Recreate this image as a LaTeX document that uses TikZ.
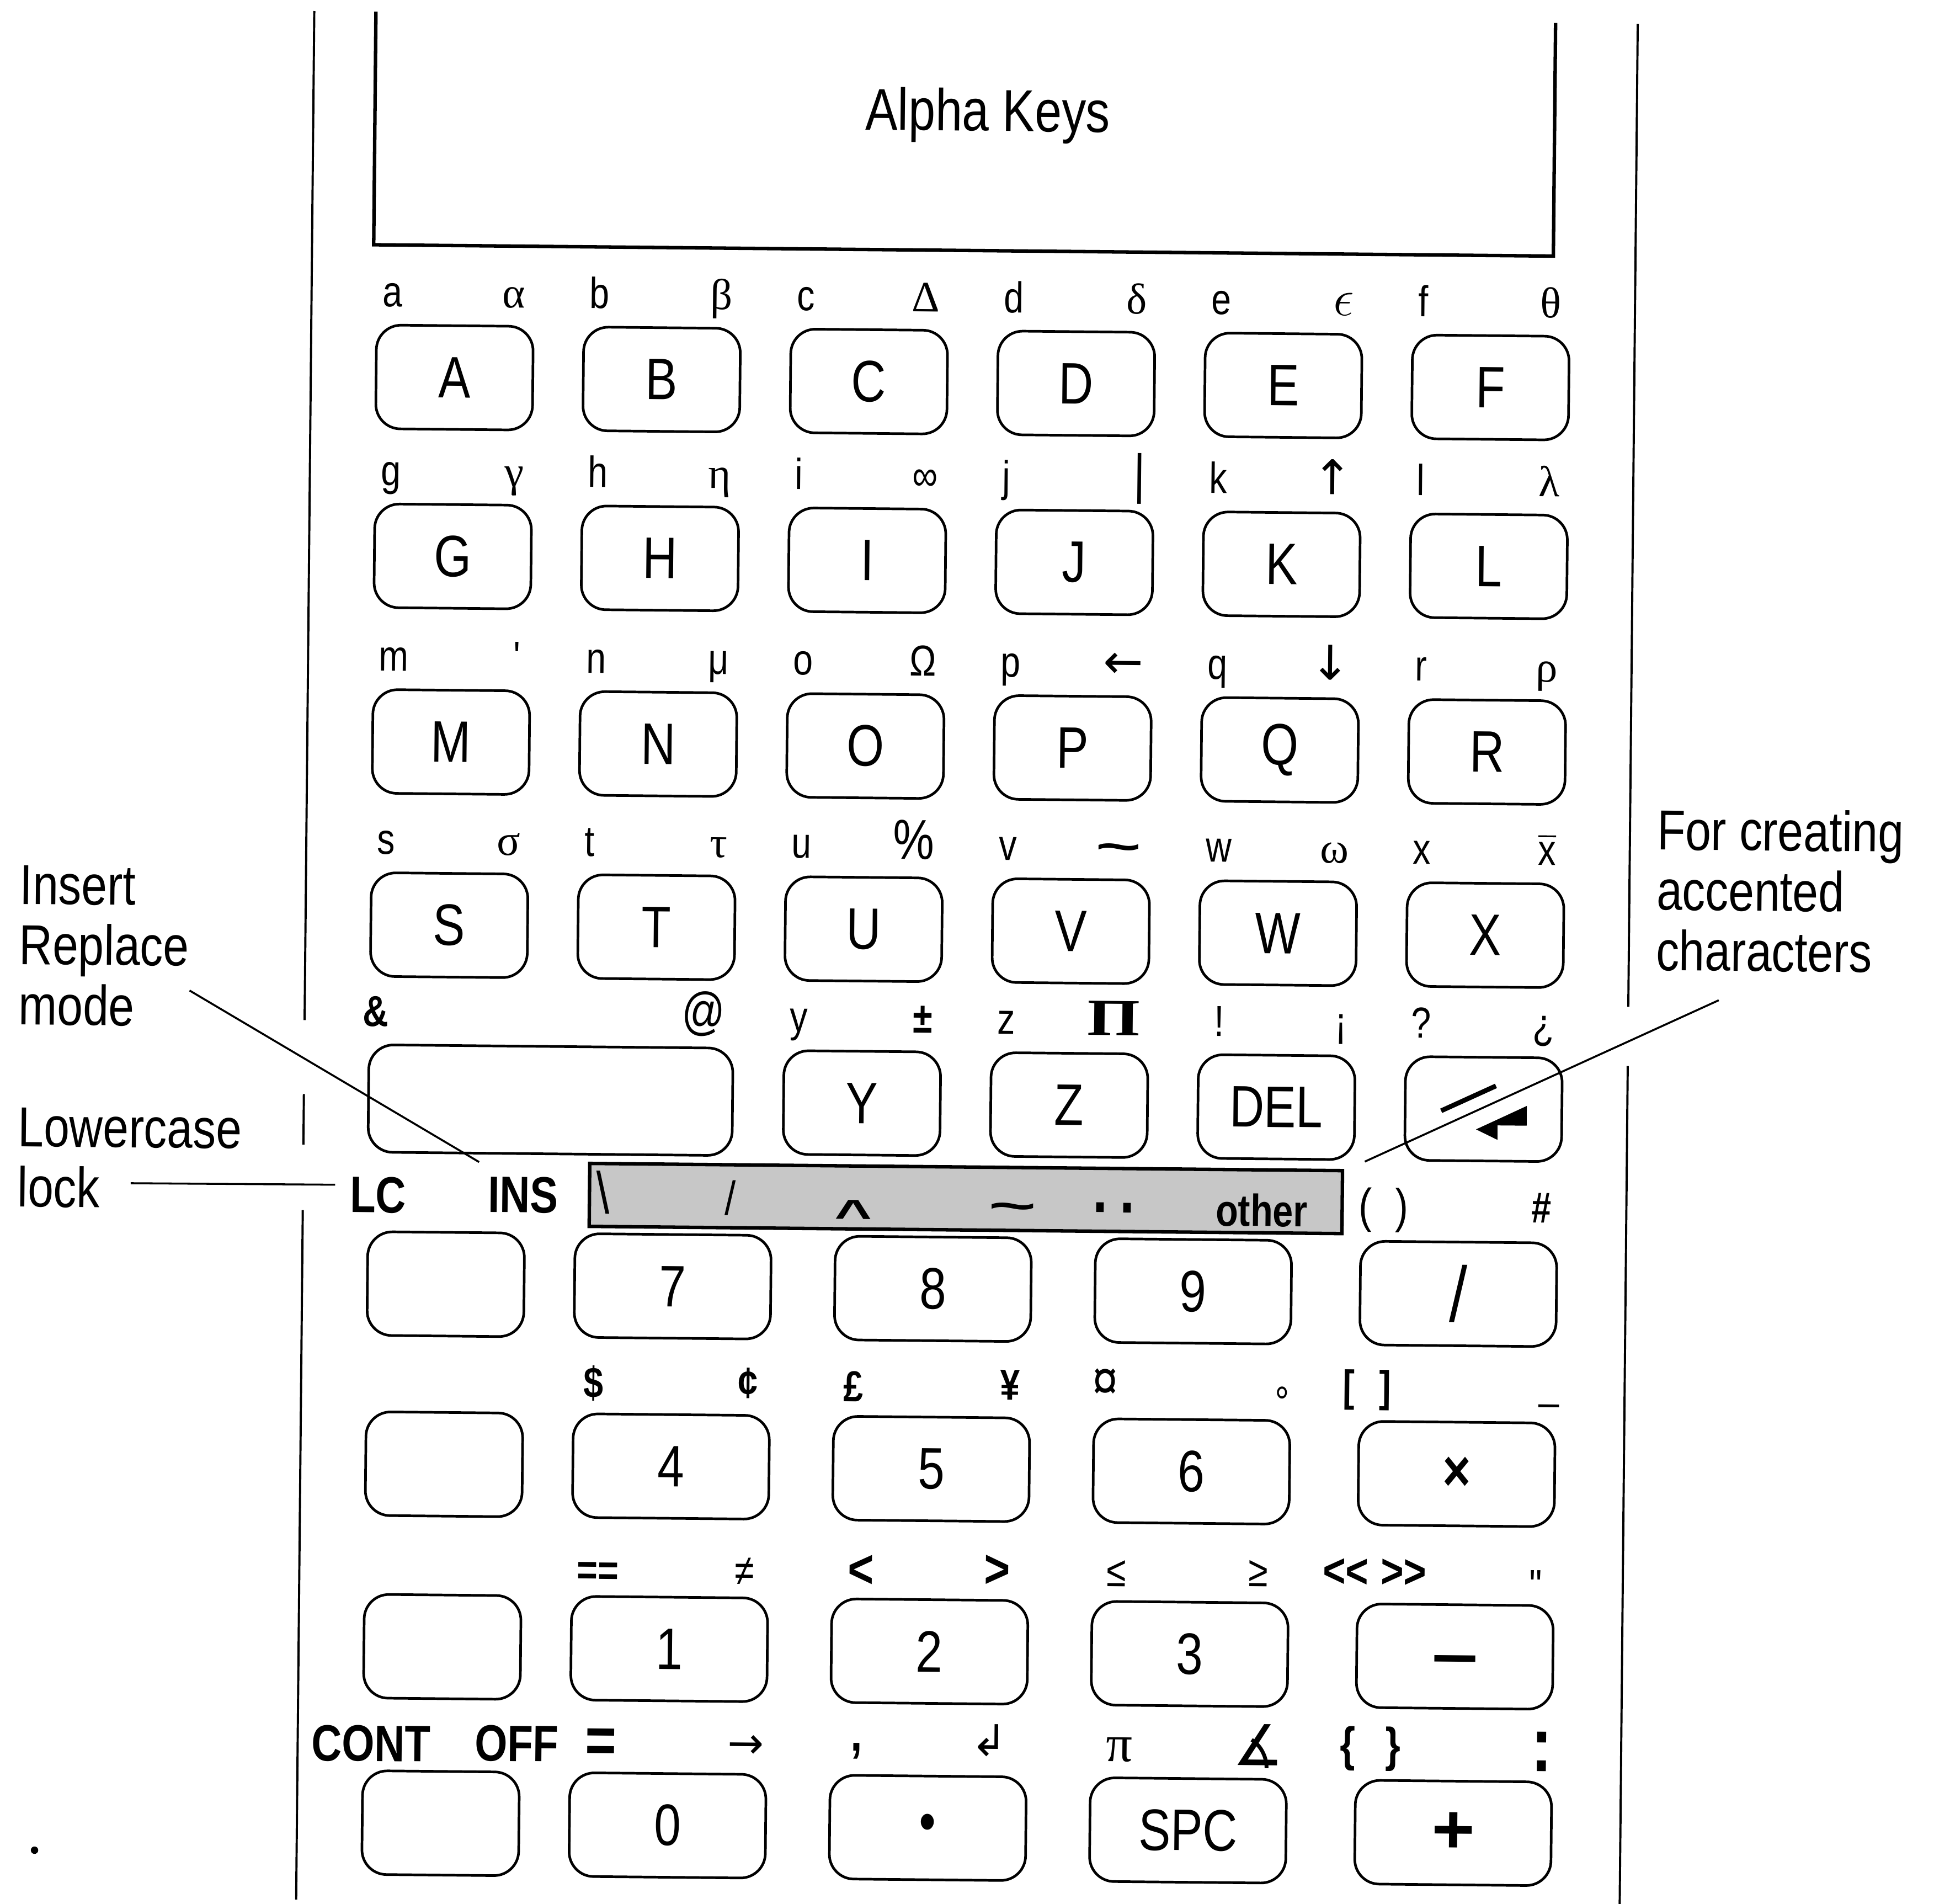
\documentclass[tikz,border=0pt]{standalone}
\usepackage{fontspec}
\usepackage{graphicx}
\setmainfont{Liberation Sans}[FakeStretch=0.82]
\newfontfamily\grk{Liberation Serif}
\newfontfamily\symf{DejaVu Sans}
\newcommand{\keyfont}{\fontsize{13.5}{14}\selectfont}
\newcommand{\lblfont}{\fontsize{10}{11}\selectfont}
\newcommand{\notefont}{\fontsize{13}{13.9}\selectfont}
\newcommand{\modefont}{\fontsize{11.8}{12}\selectfont\bfseries}
\newcommand{\gk}[1]{{\grk #1}}
\newcommand{\arw}[1]{{\fontsize{11}{11}\selectfont\symf #1}}
\tikzset{
  key/.style={draw, rounded corners=0.2cm, line width=0.6pt,
    minimum width=1.27cm, minimum height=0.84cm, inner sep=0pt,
    font=\keyfont},
  nkey/.style={key, minimum width=1.59cm},
  lbl/.style={inner sep=0pt, font=\lblfont},
  note/.style={align=left, inner sep=0pt, font=\notefont},
  shadebar/.style={draw, fill=black!22, line width=0.8pt, inner sep=0pt,
    minimum width=6.1cm, minimum height=0.51cm},
  leader/.style={line width=0.45pt},
  rim/.style={line width=0.5pt},
}
\newcommand{\akey}[7][]{%
  \node[key, #1] (#2) at (#3,#4) {#5};
  \node[lbl, anchor=base west] (#2l) at ([shift={(5,-14)}]#2.north west) {#6};
  \node[lbl, anchor=base east] (#2r) at ([shift={(-7,-14)}]#2.north east) {#7};
}

\begin{document}
\begin{tikzpicture}[x=0.01cm, y=-0.01cm]
\useasboundingbox (0,0) rectangle (1568,1543);
\begin{scope}[rotate around={-0.55:(780,770)}, transform shape]
  \draw[rim] (247.5,14) -- (247.5,832) (247.5,892) -- (247.5,933)
    (247.5,986) -- (247.5,1545);
  \draw[rim] (1320.6,14) -- (1320.6,811) (1320.6,859) -- (1320.6,1545);
  \draw[rim, line width=0.8pt] (297.5,14) -- (297.5,203) -- (1254,203) -- (1254,14);
  \node[inner sep=0pt, anchor=base, font=\fontsize{13.6}{14}\selectfont]
    (title) at (794.5,106) {Alpha Keys};

  \akey{kA}{364}{310}{A}{a}{\gk{α}}
  \akey{kB}{532}{310}{B}{b}{\gk{β}}
  \akey{kC}{700}{310}{C}{c}{\gk{Δ}}
  \akey{kD}{868}{310}{D}{d}{\gk{δ}}
  \akey{kE}{1036}{310}{E}{e}{{\fontsize{13}{13}\selectfont$\epsilon$}}
  \akey{kF}{1204}{310}{F}{f}{\gk{θ}}

  \akey{kG}{364}{455}{G}{g}{\gk{γ}}
  \akey{kH}{532}{455}{H}{h}{\gk{η}}
  \akey{kI}{700}{455}{I}{i}{∞}
  \akey{kJ}{868}{455}{J}{j}{{\fontsize{12.5}{13}\selectfont|}}
  \akey{kK}{1036}{455}{K}{k}{\arw{↑}}
  \akey{kL}{1204}{455}{L}{l}{\gk{λ}}

  \akey{kM}{364}{605.5}{M}{m}{\textquotesingle}
  \akey{kN}{532}{605.5}{N}{n}{μ}
  \akey{kO}{700}{605.5}{O}{o}{Ω}
  \akey{kP}{868}{605.5}{P}{p}{\arw{←}}
  \akey{kQ}{1036}{605.5}{Q}{q}{\arw{↓}}
  \akey{kR}{1204}{605.5}{R}{r}{\gk{ρ}}

  \akey{kS}{364}{754}{S}{s}{\gk{σ}}
  \akey{kT}{532}{754}{T}{t}{\gk{τ}}
  \akey{kU}{700}{754}{U}{u}{{\fontsize{13}{13}\selectfont\%}}
  \akey{kV}{868}{754}{V}{v}{\scalebox{2.2}[1]{\bfseries\textasciitilde}}
  \akey{kW}{1036}{754}{W}{w}{\gk{ω}}
  \akey{kX}{1204}{754}{X}{x}{$\overline{\mbox{x}}$}

  \akey[minimum width=2.95cm, minimum height=0.87cm]{kAmp}{447.5}{895}{}%
    {\hspace{-0.1cm}\textbf{\&}}{{\fontsize{12}{12}\selectfont @}}
  \akey{kY}{700}{895}{Y}{y}{\textbf{±}}
  \akey{kZ}{868}{895}{Z}{z}{\scalebox{1.3}[1]{\fontsize{12}{12}\selectfont\grk\bfseries Π}}
  \akey{kDel}{1036}{895}{DEL}{\hspace{0.08cm}!}{¡}
  \akey{kEnt}{1204}{895}{}{?}{¿}
  \begin{scope}[shift={(1204,895)}]
    \draw[line width=1.1pt] (-34.3,1.7) -- (9.9,-18.9);
    \fill (-5.9,16.5) -- (35.1,-2.9) -- (35.1,13.1) -- (11.5,13.1)
      -- (11.5,24.8) -- cycle;
  \end{scope}

  \node[shadebar] (acc) at (785,971.5) {};
  \node[inner sep=0pt, font=\keyfont] (aGrave) at (491,969.3) {\textbackslash};
  \node[inner sep=0pt, font=\fontsize{11}{11}\selectfont] (aAcute) at (594,972.8) {/};
  \node[lbl, anchor=base] (aHat) at (694,997.8)
    {\scalebox{1.8}[1]{\bfseries\textasciicircum}};
  \node[lbl, anchor=base] (aTilde) at (823,989.1)
    {\scalebox{2.3}[1]{\bfseries\textasciitilde}};
  \node[lbl, anchor=base, font=\fontsize{15}{15}\selectfont\bfseries]
    (aUml) at (905,981.8) {.\hspace{0.096cm}.};
  \node[lbl, anchor=base, font=\fontsize{10.3}{11}\selectfont\bfseries]
    (aOther) at (1025,991.7) {other};

  \node[lbl, font=\modefont, anchor=base] (lc) at (308.5,987.5) {LC};
  \node[lbl, font=\modefont, anchor=base] (ins) at (426,986.4) {INS};
  \node[lbl, anchor=base, font=\fontsize{11}{11}\selectfont] (lParen) at (1124,987.7)
    {(\hspace{0.19cm})};
  \node[lbl, anchor=base] (lHash) at (1252,986.5) {\bfseries\#};

  \node[key] (kb1) at (364,1045) {};
  \node[nkey] (k7) at (548,1045) {7};
  \node[nkey] (k8) at (759,1045) {8};
  \node[nkey] (k9) at (970,1045) {9};
  \node[nkey] (kDiv) at (1185,1045) {\fontsize{18}{18}\selectfont /};

  \node[lbl, anchor=base] (lDollar) at (484.5,1135.9) {\bfseries\$};
  \node[lbl, anchor=base] (lCent) at (609.7,1134.7) {\bfseries ¢};
  \node[lbl, anchor=base] (lPound) at (695.1,1136.8) {\bfseries £};
  \node[lbl, anchor=base] (lYen) at (822.5,1134.6) {\bfseries ¥};
  \node[lbl, anchor=base] (lCurr) at (899.5,1133.9) {\fontsize{13}{13}\selectfont ¤};
  \node[lbl] (lDeg) at (1043,1134) {°};
  \node[lbl, anchor=base] (lBrk) at (1111.9,1132.8) {\bfseries[\hspace{0.2cm}]};
  \node[lbl, anchor=base] (lUnd) at (1259.5,1129.4) {\_};

  \node[key] (kb2) at (364,1191) {};
  \node[nkey] (k4) at (548,1191) {4};
  \node[nkey] (k5) at (759,1191) {5};
  \node[nkey] (k6) at (970,1191) {6};
  \node[nkey] (kMul) at (1185,1191) {\bfseries ×};

  \node[lbl, anchor=base] (lEqEq) at (489.5,1287.8) {\bfseries ==};
  \node[lbl, anchor=base] (lNe) at (608.7,1286.7) {≠};
  \node[lbl, anchor=base, font=\fontsize{12.5}{13}\selectfont\bfseries]
    (lLt) at (702.9,1287.8) {\textless};
  \node[lbl, anchor=base, font=\fontsize{12.5}{13}\selectfont\bfseries]
    (lGt) at (813.4,1286.7) {\textgreater};
  \node[lbl, anchor=base] (lLe) at (910,1284.8) {≤};
  \node[lbl, anchor=base] (lGe) at (1025,1283.7) {≥};
  \node[lbl, anchor=base, font=\fontsize{11}{11}\selectfont\bfseries] (lPrg) at (1119.4,1283.8)
    {\textless\kern0pt\textless\hspace{0.1cm}\textgreater\kern0pt\textgreater};
  \node[lbl] (lQuot) at (1251,1280.5) {\textquotedbl};

  \node[key] (kb3) at (364,1339) {};
  \node[nkey] (k1) at (548,1339) {1};
  \node[nkey] (k2) at (759,1339) {2};
  \node[nkey] (k3) at (970,1339) {3};
  \node[nkey] (kSub) at (1185,1339)
    {\raisebox{-0.37em}[0.5em][0.5em]{\scalebox{1.7}[1]{\bfseries −}}};

  \node[lbl, font=\modefont, anchor=base] (cont) at (307,1432.2) {CONT};
  \node[lbl, font=\modefont, anchor=base] (off) at (425.1,1431.1) {OFF};
  \node[lbl] (lEq) at (493.5,1417.8) {\fontsize{15}{15}\selectfont\bfseries =};
  \node[lbl] (lTo) at (611,1417.7) {\symf →};
  \node[lbl] (lComma) at (700.7,1420.3) {\fontsize{12}{12}\selectfont\bfseries ,};
  \node[lbl] (lRet) at (808.2,1410.8) {\symf ↲};
  \node[lbl] (lPi) at (913.9,1417.3) {\fontsize{12}{12}\selectfont\grk π};
  \node[lbl] (lAng) at (1026.6,1413.4) {\fontsize{13}{13}\selectfont\symf ∡};
  \node[lbl] (lBrace) at (1117.2,1414.3)
    {\fontsize{11}{11}\selectfont\bfseries\{\hspace{0.24cm}\}};
  \node[lbl] (lColon) at (1256.3,1415.5) {\fontsize{18}{18}\selectfont\bfseries :};

  \node[key] (kb4) at (364,1482) {};
  \node[nkey] (k0) at (548,1482) {0};
  \node[nkey] (kDot) at (759,1482) {•};
  \node[nkey] (kSpc) at (970,1482) {SPC};
  \node[nkey] (kAdd) at (1185,1482) {\scalebox{1.3}[1]{\fontsize{16}{16}\selectfont\bfseries +}};

  \node[note, anchor=north west] (insnote) at (15,708) {Insert\\Replace\\mode};
  \node[note, anchor=north west] (lcnote) at (15.5,904.5) {Lowercase\\lock};
  \node[note, anchor=north west] (accnote) at (1342,649.5)
    {For creating\\accented\\characters};
  \coordinate (insTip) at (154,809);
  \coordinate (lcTip) at (107.8,965.7);
  \coordinate (accTip) at (1394,805);
  \draw[leader] (insTip) -- ([shift={(-6.8,-10.9)}]ins.north west);
  \draw[leader] (lcTip) -- ([shift={(-11.5,-7.9)}]lc.west);
  \draw[leader] (accTip) -- ([shift={(16.7,-6)}]acc.north east);

  \fill (35,1507) circle[radius=0.03cm];
\end{scope}
\end{tikzpicture}
\end{document}
